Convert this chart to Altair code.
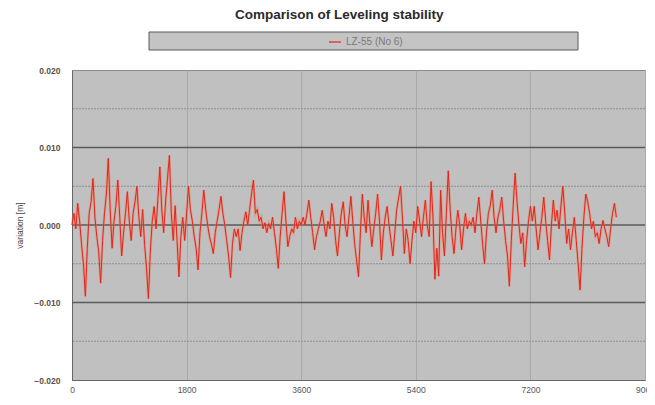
import altair as alt
import pandas as pd

title_text = "Comparison of Leveling stability"
series_name = "LZ-55 (No 6)"
y_title = "variation [m]"
x_ticks = [0, 1800, 3600, 5400, 7200, 9000]
y_ticks = [-0.020, -0.010, 0.000, 0.010, 0.020]
major_grid = [-0.010, 0.000, 0.010]
minor_grid = [-0.015, -0.005, 0.005, 0.015]

# sampling interval in seconds
step_s = 30
# variation in millimetres
variation_mm = [
    0.0, 1.5, -0.5, 2.8, 0.5, -2.5, -5.0, -9.2, -3.0, 1.5,
    3.0, 6.0, 1.0, -1.5, -3.5, -7.5, -2.0, 1.5, 4.0, 8.6,
    2.0, -3.0, 0.5, 2.5, 5.8, 1.0, -4.0, -1.0, 1.5, 4.3,
    0.5, -2.0, 1.5, 3.0, 5.0, 1.0, -1.5, 2.0, -2.5, -5.5,
    -9.5, -3.5, 0.5, 2.4, -0.5, 3.5, 7.5, 2.0, -1.0, 3.0,
    6.0, 9.0, 1.5, -2.0, 2.5, -2.0, -6.7, -1.5, 1.0, -2.0,
    1.5, 5.0, 2.0, 0.5, -1.5, -3.0, -5.8, -1.0, 1.5, 4.5,
    2.0, 0.0, -1.5, -2.5, -3.7, -1.0, 0.5, 2.0, 3.7, 1.5,
    0.0, -2.0, -4.0, -6.8, -2.5, -0.5, -1.5, -0.5, -3.3, -1.0,
    0.5, 1.7, 0.0, 2.0, 4.0, 5.8, 1.5, 2.0, 0.5, 1.0,
    -0.5, 0.3, -1.0, 0.2, -0.5, 1.0, -1.0, -3.0, -5.6, -1.5,
    1.5, 4.3, 0.5, -2.8, -1.5, -0.5, -1.0, 1.0, -0.5, 0.5,
    0.0, 1.0, 0.0, 1.5, 3.2, 1.0, -1.0, -3.2, -1.5, -0.5,
    0.5, 1.9, 0.0, -1.5, 0.5, -0.5, 2.8, 1.0, -2.0, -4.0,
    -1.0, 1.5, 3.0, 0.0, -1.5, 1.0, 3.7, 0.5, -2.5, -4.5,
    -6.7, -1.0, 4.0, 1.0, -1.0, 3.2, 0.0, -2.8, -0.5, 1.5,
    4.0, 0.5, -4.5, -1.0, 1.0, 2.4, 0.0, -2.0, -4.0, -1.0,
    2.0, 3.5, 5.0, 1.0, -3.7, -0.5, -2.0, -5.0, -2.0, 0.5,
    -1.0, 2.4, 0.5, -1.5, 1.0, 3.2, 0.0, -1.5, 5.6, 1.0,
    -7.0, -3.0, -6.6, 4.5, -1.0, -4.0, 1.5, 7.0, 2.0, -1.5,
    -3.7, -0.5, 1.9, 0.0, -3.2, -0.5, 1.5, -0.5, 0.5, 0.0,
    1.0, -1.0, 1.5, 3.6, 0.5, -2.5, -5.0, -1.0, 1.5, 2.5,
    4.5, 1.0, -1.0, 1.0, 2.0, 3.6, 0.5, -2.0, -4.0, -7.9,
    -2.0, 2.5, 6.7, 3.0, 0.0, -2.4, -1.0, -5.4, -2.0, 0.5,
    2.4, 0.5, 2.4, -0.5, -3.2, -1.0, 1.0, 3.6, 0.5, -2.0,
    -4.5, 0.0, 3.2, 0.5, 1.9, -0.5, 2.5, 5.0, 1.5, -2.4,
    -0.5, -3.2, -1.0, 1.0, -2.0, -5.0, -8.4, -3.0, 1.0, 4.0,
    3.0, 1.5, -0.5, 0.5, -1.5, -1.0, -2.4, -0.5, 0.6, -0.5,
    -1.5, -2.8, -0.5, 1.5, 2.8, 1.0,
]
time_s = [i * step_s for i in range(len(variation_mm))]

df = pd.DataFrame({
    "time": time_s,
    "variation": [v / 1000.0 for v in variation_mm],
    "series": series_name,
})
major_df = pd.DataFrame({"y": major_grid})
minor_df = pd.DataFrame({"y": minor_grid})
box_df = pd.DataFrame({"k": [0]})

x_scale = alt.Scale(domain=[0, 9000], nice=False)
y_scale = alt.Scale(domain=[-0.02, 0.02], nice=False)

minor_rules = alt.Chart(minor_df).mark_rule(
    color="#8f8f8f", strokeWidth=1, strokeDash=[2, 1]
).encode(y=alt.Y("y:Q", scale=y_scale))

major_rules = alt.Chart(major_df).mark_rule(
    color="#5a5a5a", strokeWidth=1.5
).encode(y=alt.Y("y:Q", scale=y_scale))

x_enc = alt.X(
    "time:Q",
    scale=x_scale,
    axis=alt.Axis(
        values=x_ticks,
        format="d",
        title=None,
        grid=True,
        gridColor="#a8a8a8",
        gridWidth=1,
        ticks=False,
        labelFontSize=8.5,
        labelColor="#555555",
        labelPadding=5,
        domainColor="#666666",
        labelFlush=False,
    ),
)
y_enc = alt.Y(
    "variation:Q",
    scale=y_scale,
    axis=alt.Axis(
        values=y_ticks,
        format=".3f",
        title=y_title,
        grid=False,
        ticks=False,
        labelFontSize=8.5,
        labelFontWeight="bold",
        labelColor="#5a5048",
        labelPadding=12,
        titleFontSize=8.5,
        titleFontWeight="normal",
        titleColor="#444444",
        titlePadding=9,
        domainColor="#666666",
    ),
)

halo = alt.Chart(df).mark_line(
    strokeWidth=2.6, color="#ef7a5a", opacity=0.45
).encode(x=x_enc, y=y_enc)

line = alt.Chart(df).mark_line(strokeWidth=1).encode(
    x=x_enc,
    y=y_enc,
    color=alt.Color(
        "series:N",
        scale=alt.Scale(range=["#e3261c"]),
        legend=alt.Legend(
            title=None,
            orient="none",
            legendX=256,
            legendY=-35,
            symbolType="stroke",
            symbolSize=144,
            symbolStrokeWidth=1.2,
            labelFontSize=10,
            labelColor="#7a7a7a",
            labelOffset=4,
            padding=0,
        ),
    ),
)

legend_box = alt.Chart(box_df).mark_rect(
    fill="#c4c4c4", stroke="#5a5a5a", strokeWidth=1
).encode(
    x=alt.value(77), x2=alt.value(506), y=alt.value(-38), y2=alt.value(-20)
)

chart = alt.layer(legend_box, minor_rules, major_rules, halo, line).properties(
    width=573,
    height=310,
    autosize=alt.AutoSizeParams(type="none"),
    padding={"left": 64, "top": 62, "right": 2, "bottom": 16},
    title=alt.TitleParams(
        title_text,
        anchor="start",
        frame="group",
        dx=163,
        fontSize=13.5,
        fontWeight="bold",
        color="#2a2a2a",
        font="Liberation Sans",
        offset=10,
    ),
).configure(
    font="Liberation Sans",
).configure_view(
    fill="#c0c0c0", stroke="#8a8a8a"
)

chart.save("out.html", embed_options={"renderer": "svg", "actions": False})
